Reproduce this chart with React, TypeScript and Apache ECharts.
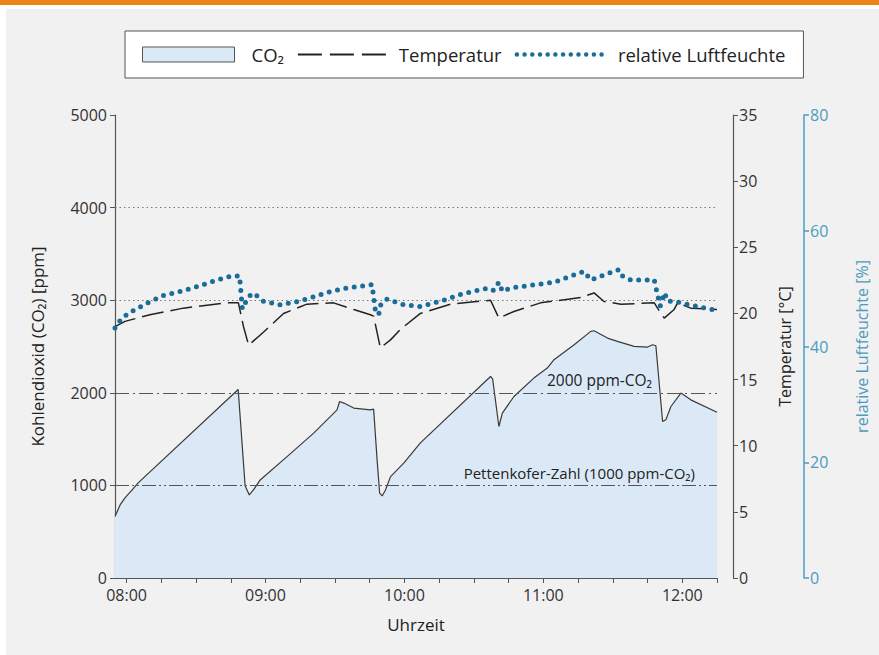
import React, { useEffect, useRef } from "react";
import * as echarts from "echarts";

// time in minutes since midnight (07:55 = 475 … 12:15 = 735)
const co2Time = [475, 477.2, 479.3, 482.4, 485, 528.2, 531.2, 533, 534.8, 537.7, 549.3, 560.8, 570.9, 572, 573.8, 578.1, 585.3, 586.7, 588.2, 589.3, 590.4, 591.8, 594, 599.7, 606.9, 637.2, 638.1, 640.8, 642.3, 647.3, 655.9, 661.7, 664.6, 673.3, 680.5, 681.9, 687.7, 692, 699.2, 705, 707.2, 708.6, 711.5, 712.9, 715.1, 719.4, 723.7, 735];
const co2Ppm = [663, 789, 865, 951, 1027, 2035, 995, 897, 951, 1059, 1311, 1564, 1816, 1906, 1889, 1835, 1816, 1824, 1276, 916, 886, 951, 1095, 1240, 1459, 2176, 2151, 1636, 1781, 1960, 2159, 2267, 2357, 2519, 2663, 2670, 2591, 2555, 2501, 2494, 2519, 2508, 1690, 1708, 1852, 1997, 1924, 1790];

const tempTime = [475, 479.3, 490.1, 504.5, 523.3, 528.3, 530.5, 532.7, 539.2, 547.8, 557.9, 569.4, 578.1, 585.3, 586.7, 589.6, 594, 598.3, 606.9, 619.9, 637.2, 640.8, 647.3, 658.8, 676.1, 681.9, 686.2, 693.5, 707.9, 710.8, 712.2, 716.5, 718, 723.7, 735];
const tempC = [19.0, 19.4, 19.9, 20.4, 20.8, 20.8, 19.0, 17.6, 18.6, 20.0, 20.7, 20.8, 20.3, 19.9, 19.8, 17.4, 18.0, 18.8, 20.0, 20.7, 21.0, 19.65, 20.15, 20.8, 21.2, 21.55, 20.9, 20.7, 20.8, 20.0, 19.65, 20.3, 20.8, 20.4, 20.3];

const humTime = [475, 477.9, 482.9, 489.4, 495.9, 503.1, 511, 518.3, 525.5, 528.8, 530, 532, 534.1, 535.6, 539.2, 546.4, 554.3, 560.8, 568, 575.2, 586, 587.5, 588.9, 589.6, 592.5, 599.7, 606.9, 617.8, 625, 636.1, 638.4, 640.8, 642.3, 645.9, 664.6, 677.6, 680.5, 692.7, 694.2, 697.8, 707.9, 709, 710.5, 712.3, 713.8, 716.5, 735];
const humPct = [43.2, 44.9, 46.2, 47.6, 48.8, 49.5, 50.4, 51.4, 52.2, 52.2, 46.5, 48.1, 49.2, 49.0, 47.8, 47.2, 47.8, 48.6, 49.5, 50.1, 50.7, 46.1, 45.5, 47.1, 48.2, 47.2, 46.9, 48.1, 49.1, 50.1, 49.7, 51.1, 49.5, 50.1, 51.1, 53.0, 51.5, 53.3, 52.2, 51.5, 51.5, 49.5, 47.0, 49.3, 47.8, 47.8, 46.2];

const hourLabels = [480, 540, 600, 660, 720];
const quarterTicks = [480, 495, 510, 525, 540, 555, 570, 585, 600, 615, 630, 645, 660, 675, 690, 705, 720, 735];

const FONT = '"Open Sans", "Noto Sans", "DejaVu Sans", sans-serif';
const AXIS = "#555";
const HUM_AXIS = "#4e9bbf";
const HUM = "#1b6c99";
const TEMP_DASH = [22, 7];
const HUM_DOTS = [0, 8.5];

const fmtTime = (v: number) =>
  String(Math.floor(v / 60)).padStart(2, "0") + ":" + String(Math.round(v % 60)).padStart(2, "0");

const zip = (a: number[], b: number[]) => a.map((t, i) => [t, b[i]]);

const hidden = { color: "rgba(0,0,0,0)", borderColor: "rgba(0,0,0,0)", borderWidth: 0, opacity: 0 };

export default function App() {
  const ref = useRef<HTMLDivElement>(null);
  useEffect(() => {
    if (!ref.current) return;
    const chart = echarts.init(ref.current, undefined, { renderer: "svg" });
    const axisText = { fontFamily: FONT, fontSize: 16, color: "#333" };
    chart.setOption({
      animation: false,
      backgroundColor: "#f1f1f1",
      textStyle: { fontFamily: FONT },
      graphic: [
        { type: "rect", silent: true, shape: { x: 0, y: 0, width: 879, height: 9 }, style: { fill: "#ffffff" } },
        { type: "rect", silent: true, shape: { x: 0, y: 0, width: 6, height: 655 }, style: { fill: "#ffffff" } },
        { type: "rect", silent: true, shape: { x: 0, y: 0, width: 879, height: 5 }, style: { fill: "#ee8418" } },
      ],
      legend: {
        left: 125,
        top: 31,
        padding: [13, 18, 13, 17],
        itemGap: 13,
        itemWidth: 92,
        itemHeight: 15,
        backgroundColor: "#ffffff",
        borderColor: "#555",
        borderWidth: 1,
        textStyle: { fontFamily: FONT, fontSize: 18.5, color: "#222", lineHeight: 21 },
        data: [
          { name: "CO₂", icon: "rect", itemStyle: { color: "#dbe9f7", borderColor: "#555", borderWidth: 1 }, textStyle: { padding: [0, 0, 0, 12] } },
          { name: "Temperatur", itemStyle: hidden, lineStyle: { color: "#222", width: 1.8, type: [24, 8] }, textStyle: { padding: [0, 0, 0, 4] } },
          { name: "relative Luftfeuchte", itemStyle: hidden, lineStyle: { color: HUM, width: 4.5, type: [0, 7.7], cap: "round" }, textStyle: { padding: [0, 0, 0, 4] } },
        ],
      },
      grid: { left: 115, right: 162, top: 115, bottom: 77 },
      xAxis: {
        type: "value",
        min: 475,
        max: 735,
        name: "Uhrzeit",
        nameLocation: "middle",
        nameGap: 38,
        nameTextStyle: { fontFamily: FONT, fontSize: 17, color: "#222" },
        axisLine: { show: true, lineStyle: { color: AXIS, width: 1.2 } },
        axisTick: { show: true, length: 5, customValues: quarterTicks, lineStyle: { color: AXIS } },
        axisLabel: { ...axisText, margin: 9, customValues: hourLabels, formatter: fmtTime },
        splitLine: { show: false },
      },
      yAxis: [
        {
          type: "value",
          min: 0,
          max: 5000,
          interval: 1000,
          position: "left",
          name: "Kohlendioxid (CO₂) [ppm]",
          nameLocation: "middle",
          nameRotate: 90,
          nameGap: 69,
          nameTextStyle: { fontFamily: FONT, fontSize: 17, color: "#222" },
          axisLine: { show: true, lineStyle: { color: AXIS, width: 1.2 } },
          axisTick: { show: true, length: 5, lineStyle: { color: AXIS } },
          axisLabel: { ...axisText, margin: 8, formatter: (v: number) => String(v) },
          splitLine: { show: false },
        },
        {
          type: "value",
          min: 0,
          max: 35,
          interval: 5,
          position: "right",
          offset: 16,
          name: "Temperatur [°C]",
          nameLocation: "middle",
          nameRotate: 90,
          nameGap: 44,
          nameTextStyle: { fontFamily: FONT, fontSize: 16, color: "#222" },
          axisLine: { show: true, lineStyle: { color: AXIS, width: 1.2 } },
          axisTick: { show: true, length: 5, lineStyle: { color: AXIS } },
          axisLabel: { ...axisText, margin: 6 },
          splitLine: { show: false },
        },
        {
          type: "value",
          min: 0,
          max: 80,
          interval: 20,
          position: "right",
          offset: 87,
          name: "relative Luftfeuchte [%]",
          nameLocation: "middle",
          nameRotate: 90,
          nameGap: 50,
          nameTextStyle: { fontFamily: FONT, fontSize: 16, color: HUM_AXIS },
          axisLine: { show: true, lineStyle: { color: HUM_AXIS, width: 1.5 } },
          axisTick: { show: true, length: 5, lineStyle: { color: HUM_AXIS, width: 1.5 } },
          axisLabel: { ...axisText, color: HUM_AXIS, margin: 6 },
          splitLine: { show: false },
        },
      ],
      series: [
        {
          name: "CO₂",
          type: "line",
          yAxisIndex: 0,
          symbol: "none",
          data: zip(co2Time, co2Ppm),
          lineStyle: { color: "#3a3a3a", width: 1.2 },
          itemStyle: { color: "#dbe9f7" },
          areaStyle: { color: "#dbe9f7", opacity: 1 },
          z: 1,
          markLine: {
            silent: true,
            symbol: "none",
            z: 3,
            data: [
              { yAxis: 4000, lineStyle: { color: "#777", width: 1, type: [1.5, 3] }, label: { show: false } },
              { yAxis: 3000, lineStyle: { color: "#777", width: 1, type: [1.5, 3] }, label: { show: false } },
              {
                yAxis: 2000,
                lineStyle: { color: "#555", width: 1, type: [14, 4, 2, 4] },
                label: { show: true, formatter: "2000 ppm-CO₂", position: "insideEndTop", distance: [65, 5], fontFamily: FONT, fontSize: 15.5, color: "#222" },
              },
              {
                yAxis: 1000,
                lineStyle: { color: "#555", width: 1, type: [14, 3, 2, 3, 2, 3] },
                label: { show: true, formatter: "Pettenkofer-Zahl (1000 ppm-CO₂)", position: "insideEndTop", distance: [22, 5], fontFamily: FONT, fontSize: 15, color: "#222" },
              },
            ],
          },
        },
        {
          name: "Temperatur",
          type: "line",
          yAxisIndex: 1,
          symbol: "none",
          data: zip(tempTime, tempC),
          lineStyle: { color: "#222", width: 1.5, type: TEMP_DASH },
          itemStyle: { color: "#222" },
          z: 4,
        },
        {
          name: "relative Luftfeuchte",
          type: "line",
          yAxisIndex: 2,
          symbol: "none",
          data: zip(humTime, humPct),
          lineStyle: { color: HUM, width: 5, type: HUM_DOTS, cap: "round" },
          itemStyle: { color: HUM },
          z: 5,
        },
      ],
    });
    return () => chart.dispose();
  }, []);
  return <div ref={ref} style={{ position: "fixed", left: 0, top: 0, width: 879, height: 655 }} />;
}
